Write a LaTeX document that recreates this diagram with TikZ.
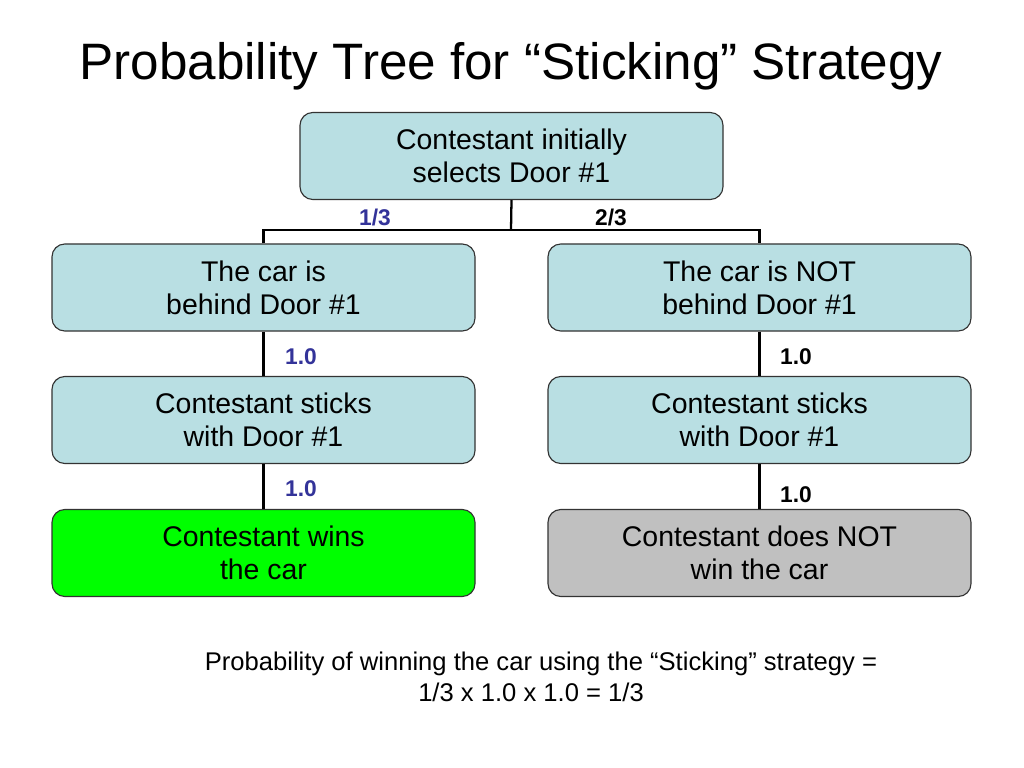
\documentclass[tikz,border=0pt]{standalone}
\usepackage{fontspec}
\setmainfont{Liberation Sans}
\definecolor{boxblue}{HTML}{B9DFE3}
\definecolor{wingreen}{HTML}{00FF00}
\definecolor{losegray}{HTML}{C0C0C0}
\definecolor{problue}{HTML}{333399}
\begin{document}
\begin{tikzpicture}[x=0.703125pt,y=-0.703125pt,
  tbox/.style={draw=black!80,line width=0.8pt,rounded corners=9pt,minimum width=423*0.703125pt,minimum height=87*0.703125pt,align=center,font=\fontsize{20}{23.4}\selectfont,inner sep=0pt},
  conn/.style={line width=1.6pt},
  plab/.style={font=\bfseries\fontsize{16}{18}\selectfont,inner sep=0pt}]
\useasboundingbox (0,0) rectangle (1024,768);
\node[font=\fontsize{36}{40}\selectfont] (title) at (511,66) {Probability Tree for “Sticking” Strategy};
\node[tbox,fill=boxblue] (top) at (511.5,156) {Contestant initially\\selects Door \#1};
\node[tbox,fill=boxblue] (l1) at (263.5,287.5) {The car is\\behind Door \#1};
\node[tbox,fill=boxblue] (r1) at (759.5,287.5) {The car is NOT\\ behind Door \#1};
\node[tbox,fill=boxblue] (l2) at (263.5,420) {Contestant sticks\\with Door \#1};
\node[tbox,fill=boxblue] (r2) at (759.5,420) {Contestant sticks\\with Door \#1};
\node[tbox,fill=wingreen] (l3) at (263.5,553) {Contestant wins\\the car};
\node[tbox,fill=losegray] (r3) at (759.5,553) {Contestant does NOT\\win the car};
\coordinate (j) at (511,230);
\draw[conn] (top.south) -- (j);
\draw[conn] (l1.north) |- (j) -| (r1.north);
\draw[conn] (l1) -- (l2);
\draw[conn] (r1) -- (r2);
\draw[conn] (l2) -- (l3);
\draw[conn] (r2) -- (r3);
\node[plab,text=problue] (p13) at (375,217) {1/3};
\node[plab] (p23) at (611,217) {2/3};
\node[plab,text=problue] (pl1) at (301,357) {1.0};
\node[plab] (pr1) at (796,357) {1.0};
\node[plab,text=problue] (pl2) at (301,489) {1.0};
\node[plab] (pr2) at (796,495) {1.0};
\node[align=center,font=\fontsize{18}{21.8}\selectfont] (res) at (541,677) {Probability of winning the car using the “Sticking” strategy =\\ 1/3 x 1.0 x 1.0 = 1/3\hspace*{14pt}};
\end{tikzpicture}
\end{document}
